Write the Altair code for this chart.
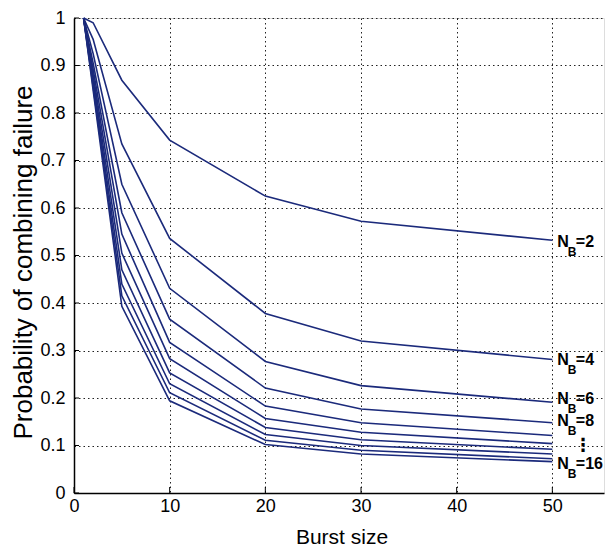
import altair as alt
import pandas as pd

# ---- data ----
burst = [1, 2, 5, 10, 20, 30, 50]
series_vals = [
    [1.0, 0.990, 0.869, 0.743, 0.625, 0.572, 0.532],   # N_B=2
    [1.0, 0.955, 0.735, 0.536, 0.378, 0.320, 0.281],   # N_B=4
    [1.0, 0.925, 0.650, 0.431, 0.277, 0.226, 0.191],   # N_B=6
    [1.0, 0.905, 0.590, 0.366, 0.221, 0.177, 0.148],   # N_B=8
    [1.0, 0.892, 0.545, 0.317, 0.183, 0.148, 0.121],
    [1.0, 0.880, 0.505, 0.283, 0.157, 0.128, 0.104],
    [1.0, 0.870, 0.470, 0.253, 0.138, 0.112, 0.092],
    [1.0, 0.862, 0.440, 0.230, 0.123, 0.100, 0.082],
    [1.0, 0.855, 0.415, 0.211, 0.111, 0.090, 0.072],
    [1.0, 0.848, 0.393, 0.194, 0.102, 0.082, 0.066],   # N_B=16
]
label_rest = ["=2", "=4", "=6", "=8", "=16"]
label_y = [0.529, 0.281, 0.197, 0.151, 0.062]
label_x = [50, 50, 50, 50, 50]
dots_y = [0.098]
x_ticks = [0, 10, 20, 30, 40, 50]
y_ticks = [round(i * 0.1, 1) for i in range(11)]

W, H = 530, 475
LINE = "#1b2a7b"
FONT = "Liberation Sans"

rows = []
for i, vals in enumerate(series_vals):
    for xv, yv in zip(burst, vals):
        rows.append({"series": i, "burst": xv, "p": yv})
df = pd.DataFrame(rows)
lab = pd.DataFrame({"x": label_x, "y": label_y, "rest": label_rest,
                    "N": ["N"] * len(label_x), "B": ["B"] * len(label_x)})
dots = pd.DataFrame({"x": [50], "y": dots_y, "t": ["\u22ee"]})
xt = pd.DataFrame({"v": x_ticks})
yt = pd.DataFrame({"v": y_ticks})

xscale = alt.Scale(domain=[0, 55.4], nice=False, zero=False)
yscale = alt.Scale(domain=[0, 1], nice=False)

xaxis = alt.Axis(values=x_ticks, title="Burst size", grid=True, ticks=False,
                 labelFontSize=18, labelPadding=4, labelFont=FONT, labelColor="black",
                 titleFontSize=21, titleFont=FONT, titleFontWeight="normal",
                 titleColor="black", titleX=267.5, titleY=50,
                 titleBaseline="alphabetic", titleAlign="center",
                 domainColor="black", domainWidth=1.5,
                 gridColor="#222222", gridDash=[1.5, 3], gridWidth=1,
                 labelFlush=False)
yaxis = alt.Axis(values=y_ticks, title="Probability of combining failure",
                 grid=True, ticks=False, format="~g",
                 labelFontSize=18, labelPadding=9, labelFont=FONT, labelColor="black",
                 titleFontSize=26, titleFont=FONT, titleFontWeight="normal",
                 titleColor="black", titleX=-43, titleY=244, titleAngle=-90,
                 titleBaseline="alphabetic", titleAlign="center",
                 domainColor="black", domainWidth=1.5,
                 gridColor="#222222", gridDash=[1.5, 3], gridWidth=1,
                 labelFlush=False)

lines = alt.Chart(df).mark_line(color=LINE, strokeWidth=1.6, clip=False).encode(
    x=alt.X("burst:Q", scale=xscale, axis=xaxis),
    y=alt.Y("p:Q", scale=yscale, axis=yaxis),
    detail="series:N",
)

ytick_marks = alt.Chart(yt).mark_rule(color="black", strokeWidth=1).encode(
    y=alt.Y("v:Q", scale=yscale), x=alt.value(0), x2=alt.value(5))
xtick_marks = alt.Chart(xt).mark_rule(color="black", strokeWidth=1).encode(
    x=alt.X("v:Q", scale=xscale), y=alt.value(H), y2=alt.value(H - 6))

base_txt = alt.Chart(lab)
n_txt = base_txt.mark_text(align="left", baseline="middle", dx=5, font=FONT,
                           fontSize=16, fontWeight="bold", color="black").encode(
    x=alt.X("x:Q", scale=xscale), y=alt.Y("y:Q", scale=yscale), text="N:N")
b_txt = base_txt.mark_text(align="left", baseline="middle", dx=15.5, dy=10, font=FONT,
                           fontSize=12, fontWeight="bold", color="black").encode(
    x=alt.X("x:Q", scale=xscale), y=alt.Y("y:Q", scale=yscale), text="B:N")
r_txt = base_txt.mark_text(align="left", baseline="middle", dx=23.5, font=FONT,
                           fontSize=16, fontWeight="bold", color="black").encode(
    x=alt.X("x:Q", scale=xscale), y=alt.Y("y:Q", scale=yscale), text="rest:N")
d_txt = alt.Chart(dots).mark_text(align="center", baseline="middle", dx=31,
                                  font="DejaVu Sans", fontSize=18, fontWeight="bold",
                                  color="black").encode(
    x=alt.X("x:Q", scale=xscale), y=alt.Y("y:Q", scale=yscale), text="t:N")

chart = alt.layer(lines, ytick_marks, xtick_marks, n_txt, b_txt, r_txt, d_txt).properties(
    width=W, height=H,
    autosize=alt.AutoSizeParams(type="none"),
    padding={"left": 66, "top": 10, "right": 1, "bottom": 54},
).configure_view(stroke=None).configure(background="white")

chart.save("out.html", embed_options={"renderer": "svg", "actions": False})
